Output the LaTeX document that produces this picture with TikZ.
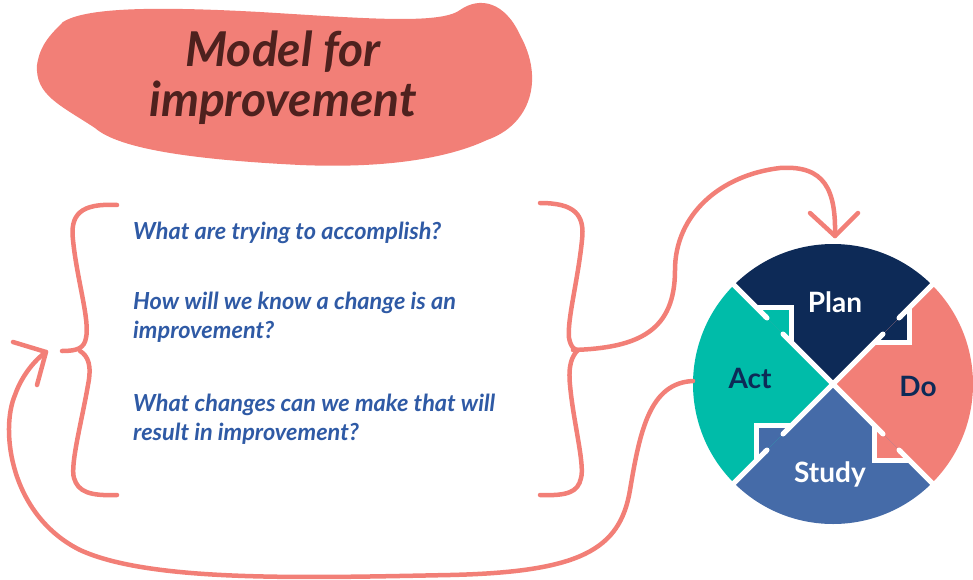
\documentclass[tikz,border=0pt]{standalone}
\usepackage{fontspec}
\setmainfont{Lato}
\definecolor{salmon}{HTML}{F27F77}
\definecolor{navy}{HTML}{0D2A57}
\definecolor{steel}{HTML}{456BA8}
\definecolor{teal}{HTML}{00BCA9}
\definecolor{qblue}{HTML}{2F5AA5}
\definecolor{title}{HTML}{4E211E}
\begin{document}
\begin{tikzpicture}[x=1pt,y=-1pt,
  stroke/.style={draw=salmon,line width=4.5pt,line cap=round,line join=round},
  q/.style={font=\fontsize{23.5}{29}\selectfont\bfseries\itshape,text=qblue,anchor=north west,align=left,inner sep=0},
  lab/.style={font=\fontsize{28}{30}\selectfont\bfseries}]
\useasboundingbox (0,0) rectangle (973,580);
% blob
\fill[salmon] (63,22) .. controls (85,8) and (150,6) .. (260,12)
  .. controls (360,18) and (440,25) .. (460,10)
  .. controls (480,-4) and (505,2) .. (520,35)
  .. controls (545,80) and (530,125) .. (487,140)
  .. controls (440,162) and (370,168) .. (300,165)
  .. controls (200,160) and (120,150) .. (95,128)
  .. controls (60,105) and (35,95) .. (37,65)
  .. controls (40,45) and (50,35) .. (63,22) -- cycle;
\node[font=\fontsize{48}{50}\selectfont\bfseries\itshape,text=title,align=center] (t) at (283,78) {Model for\\improvement};
% braces
\draw[stroke] (117,205) .. controls (80,203) and (70,215) .. (73,240)
  .. controls (77,280) and (90,320) .. (86,338) .. controls (84,348) and (78,351) .. (62,351);
\draw[stroke] (80,351) .. controls (88,356) and (92,365) .. (88,385)
  .. controls (82,420) and (70,465) .. (74,478) .. controls (78,492) and (90,496) .. (117,495);
\draw[stroke] (540,203) .. controls (575,203) and (585,215) .. (582,240)
  .. controls (578,280) and (567,320) .. (569,338) .. controls (571,348) and (575,350) .. (578,350);
\draw[stroke] (578,350) .. controls (572,356) and (568,365) .. (570,385)
  .. controls (573,420) and (585,465) .. (581,478) .. controls (578,492) and (568,496) .. (540,495);
% questions
\node[q] (q1) at (133,222) {What are trying to accomplish?};
\node[q] (q2) at (133,292) {How will we know a change is an\\improvement?};
\node[q] (q3) at (133,394) {What changes can we make that will\\result in improvement?};
% top curve arrow
\coordinate (s1) at (573,350);
\coordinate (e1) at (835,236);
\draw[stroke] (s1) .. controls (640,348) and (675,330) .. (675,270)
  .. controls (675,215) and (720,175) .. (780,168)
  .. controls (825,165) and (836,190) .. (e1);
\draw[stroke] (810,213) -- (e1) -- (858,213);
% circle
\begin{scope}[shift={(833,384)},yscale=-1]
\foreach \c [count=\k from 0] in {navy,salmon,steel,teal}{
  \fill[\c,rotate=90*\k] (0,0) -- (45:140) arc[start angle=45,end angle=135,radius=140] -- cycle;}
\foreach \c [count=\k from 0] in {navy,salmon,steel,teal}{
  \fill[\c,rotate=90*\k] (41.7,41.7) -- (76.7,41.7) -- (76.7,76.7) -- cycle;}
\foreach \k in {0,1,2,3}{
  \begin{scope}[rotate=90*\k]
  \draw[white,line width=5pt,line cap=round] (0,0) -- (50,50);
  \draw[white,line width=5pt] (67,67) -- (105,105);
  \draw[white,line width=5pt,line cap=round] (66,66)--(68,68);
  \draw[white,line width=5pt,line join=miter] (41.7,41.7) -- (76.7,41.7) -- (76.7,76.7);
  \end{scope}}
\end{scope}
\node[lab,text=white] (plan) at (835,302) {Plan};
\node[lab,text=navy] (do) at (918,386) {Do};
\node[lab,text=navy] (act) at (750,378) {Act};
\node[lab,text=white] (study) at (830,474) {Study};
% bottom curve arrow
\coordinate (s2) at (693,381);
\coordinate (e2) at (46,352);
\draw[stroke] (s2) .. controls (650,383) and (640,430) .. (630,490)
  .. controls (620,550) and (580,572) .. (450,575)
  .. controls (300,578) and (150,582) .. (80,550)
  .. controls (10,515) and (0,430) .. (15,395)
  .. controls (22,375) and (35,360) .. (e2);
\draw[stroke] (13,342) -- (e2) -- (37,385);
\end{tikzpicture}
\end{document}
